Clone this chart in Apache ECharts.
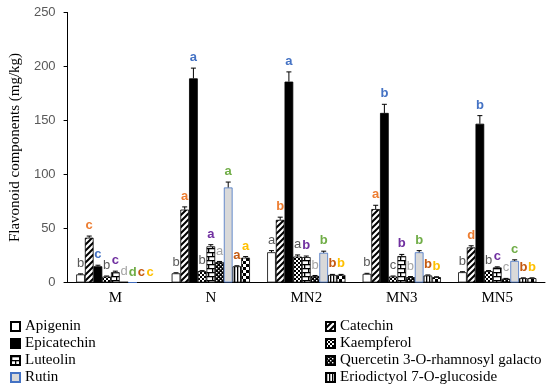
<!DOCTYPE html>
<html>
<head>
<meta charset="utf-8">
<script src="https://cdn.jsdelivr.net/npm/echarts@6/dist/echarts.min.js"></script>
<style>html,body{margin:0;padding:0;background:#fff;}#c{width:550px;height:391px;}</style>
</head>
<body>
<div id="c"></div>
<script>
// ---- data ----
const categories = ['M', 'N', 'MN2', 'MN3', 'MN5'];
const yTicks = [0, 50, 100, 150, 200, 250];
const seriesNames = ['Apigenin', 'Catechin', 'Epicatechin', 'Kaempferol', 'Luteolin',
  'Quercetin 3-O-rhamnosyl galacto', 'Rutin', 'Eriodictyol 7-O-glucoside', 'Series 9'];
const apigenin    = [7.5, 8.5, 28, 8, 9.5];
const catechin    = [41.5, 67.5, 58, 68, 32.5];
const epicatechin = [15, 189, 186, 157, 147];
const kaempferol  = [5.5, 10.5, 24, 5.5, 10.5];
const luteolin    = [9.5, 33.5, 23.5, 24.5, 14];
const quercetin   = [0.5, 19, 6, 5, 3.5];
const rutin       = [0, 88, 27.5, 28, 20];
const eriodictyol = [0, 15, 7, 6.5, 4];
const series9     = [0, 23, 7, 5, 4];
const apigeninErr    = [0.5, 0.5, 1.5, 0.5, 0.5];
const catechinErr    = [1.5, 2.5, 2.5, 3.5, 1.5];
const epicatechinErr = [1, 9.5, 9, 8, 7.5];
const kaempferolErr  = [0.5, 0.5, 1.5, 0.5, 0.5];
const luteolinErr    = [1, 1.5, 1, 1.5, 0.5];
const quercetinErr   = [0, 0.5, 0.5, 0.5, 0.3];
const rutinErr       = [0, 5, 1.5, 1.5, 1];
const eriodictyolErr = [0, 0.5, 0.5, 0.5, 0.3];
const series9Err     = [0, 1, 0.5, 0.3, 0.3];
const apigeninLet    = ['b', 'b', 'a', 'b', 'b'];
const catechinLet    = ['c', 'a', 'b', 'a', 'd'];
const epicatechinLet = ['c', 'a', 'a', 'b', 'b'];
const kaempferolLet  = ['b', 'b', 'a', 'c', 'b'];
const luteolinLet    = ['c', 'a', 'b', 'b', 'c'];
const quercetinLet   = ['d', 'a', 'b', 'b', 'c'];
const rutinLet       = ['d', 'a', 'b', 'b', 'c'];
const eriodictyolLet = ['c', 'a', 'b', 'b', 'b'];
const series9Let     = ['c', 'a', 'b', 'b', 'b'];

const values = [apigenin, catechin, epicatechin, kaempferol, luteolin, quercetin, rutin, eriodictyol, series9];
const errors = [apigeninErr, catechinErr, epicatechinErr, kaempferolErr, luteolinErr, quercetinErr, rutinErr, eriodictyolErr, series9Err];
const letters = [apigeninLet, catechinLet, epicatechinLet, kaempferolLet, luteolinLet, quercetinLet, rutinLet, eriodictyolLet, series9Let];

// ---- styles ----
const letterColors = ['#595959', '#ED7D31', '#4472C4', '#595959', '#7030A0', '#A5A5A5', '#70AD47', '#C55A11', '#FFC000'];
const letterBold = [false, true, true, false, true, false, true, true, true];

function tile(w, h, draw) {
  const c = document.createElement('canvas');
  c.width = w; c.height = h;
  const ctx = c.getContext('2d');
  draw(ctx, w, h);
  return { image: c, repeat: 'repeat' };
}
const patWhite = '#ffffff';
const patDiag = tile(6, 6, (ctx, w, h) => {
  ctx.fillStyle = '#fff'; ctx.fillRect(0, 0, w, h);
  ctx.strokeStyle = '#000'; ctx.lineWidth = 2;
  ctx.beginPath();
  ctx.moveTo(-3, 3); ctx.lineTo(3, -3);
  ctx.moveTo(0, 6); ctx.lineTo(6, 0);
  ctx.moveTo(3, 9); ctx.lineTo(9, 3);
  ctx.stroke();
});
const patSmallChecker = tile(4, 4, (ctx, w, h) => {
  ctx.fillStyle = '#fff'; ctx.fillRect(0, 0, w, h);
  ctx.fillStyle = '#000';
  ctx.fillRect(0, 0, 2, 2); ctx.fillRect(2, 2, 2, 2);
});
const patBrick = tile(8, 8, (ctx, w, h) => {
  ctx.fillStyle = '#fff'; ctx.fillRect(0, 0, w, h);
  ctx.fillStyle = '#000';
  ctx.fillRect(0, 0, 8, 1.3); ctx.fillRect(0, 4, 8, 1.3);
  ctx.fillRect(0, 0, 1.3, 4); ctx.fillRect(4, 4, 1.3, 4);
});
const patDarkChecker = tile(4, 4, (ctx, w, h) => {
  ctx.fillStyle = '#000'; ctx.fillRect(0, 0, w, h);
  ctx.fillStyle = '#fff';
  ctx.fillRect(0, 0, 1.4, 1.4); ctx.fillRect(2, 2, 1.4, 1.4);
});
const patVert = tile(3, 3, (ctx, w, h) => {
  ctx.fillStyle = '#fff'; ctx.fillRect(0, 0, w, h);
  ctx.fillStyle = '#000'; ctx.fillRect(0, 0, 1.3, 3);
});
const patBigChecker = tile(6, 6, (ctx, w, h) => {
  ctx.fillStyle = '#fff'; ctx.fillRect(0, 0, w, h);
  ctx.fillStyle = '#000';
  ctx.fillRect(0, 0, 3, 3); ctx.fillRect(3, 3, 3, 3);
});
const fills = [patWhite, patDiag, '#000000', patSmallChecker, patBrick, patDarkChecker, '#D9D9D9', patVert, patBigChecker];
const borders = ['#000', '#000', '#000', '#000', '#000', '#000', '#4472C4', '#000', '#000'];

const CAT_GAP = 0.18;
const N = seriesNames.length;

const barSeries = seriesNames.map((name, i) => ({
  name: name,
  type: 'bar',
  data: values[i],
  barGap: '0%',
  barCategoryGap: (CAT_GAP * 100) + '%',
  itemStyle: { color: fills[i], borderColor: borders[i], borderWidth: 0.8 },
  emphasis: { disabled: true },
  z: 2
}));

const errData = [];
for (let s = 0; s < N; s++) {
  for (let c = 0; c < categories.length; c++) {
    errData.push([c, s, values[s][c], errors[s][c]]);
  }
}

const errSeries = {
  type: 'custom',
  name: 'err',
  z: 5,
  silent: true,
  encode: { x: 0, y: 2 },
  data: errData,
  renderItem: function (params, api) {
    const c = api.value(0), s = api.value(1), v = api.value(2), e = api.value(3);
    const band = api.size([1, 0])[0];
    const groupW = band * (1 - CAT_GAP);
    const bw = groupW / N;
    const x = api.coord([c, 0])[0] - groupW / 2 + bw * (s + 0.5);
    const yV = api.coord([c, v])[1];
    const yT = api.coord([c, v + e])[1];
    const children = [];
    if (e > 0) {
      children.push({ type: 'line', shape: { x1: x, y1: yV, x2: x, y2: yT }, style: { stroke: '#000', lineWidth: 1 } });
      children.push({ type: 'line', shape: { x1: x - 2.5, y1: yT, x2: x + 2.5, y2: yT }, style: { stroke: '#000', lineWidth: 1 } });
    }
    children.push({
      type: 'text',
      style: {
        text: letters[s][c], x: x, y: yT - 4,
        fill: letterColors[s],
        font: (letterBold[s] ? 'bold ' : '') + '13px "Liberation Sans", Arial, sans-serif',
        align: 'center', verticalAlign: 'bottom'
      }
    });
    return { type: 'group', children: children };
  }
};

const serifFont = '"Liberation Serif", "Times New Roman", serif';
const legendText = { fontFamily: serifFont, fontSize: 15, color: '#000', lineHeight: 17 };

const chart = echarts.init(document.getElementById('c'), null, { renderer: 'canvas' });
chart.setOption({
  animation: false,
  backgroundColor: '#fff',
  grid: { left: 63, right: 5, top: 12.5, bottom: 108.5, containLabel: false },
  legend: [
    { orient: 'vertical', left: 10, top: 318, height: 120, padding: 0, itemWidth: 9, itemHeight: 9, itemGap: 0, icon: 'rect',
      selectedMode: false, data: [seriesNames[0], seriesNames[2], seriesNames[4], seriesNames[6]], textStyle: legendText },
    { orient: 'vertical', left: 325, top: 318, height: 120, padding: 0, itemWidth: 9, itemHeight: 9, itemGap: 0, icon: 'rect',
      selectedMode: false, data: [seriesNames[1], seriesNames[3], seriesNames[5], seriesNames[7]], textStyle: legendText }
  ],
  xAxis: {
    type: 'category',
    data: categories,
    axisLine: { lineStyle: { color: '#000', width: 1 } },
    axisTick: { show: false },
    axisLabel: { fontFamily: serifFont, fontSize: 15, color: '#000', margin: 8 }
  },
  yAxis: {
    type: 'value',
    min: yTicks[0], max: yTicks[yTicks.length - 1], interval: yTicks[1] - yTicks[0],
    name: 'Flavonoid components (mg/kg)',
    nameLocation: 'middle', nameGap: 42,
    nameTextStyle: { fontFamily: serifFont, fontSize: 15, color: '#000' },
    axisLine: { show: true, lineStyle: { color: '#000', width: 1 } },
    axisTick: { show: true, inside: false, length: 4, lineStyle: { color: '#000' } },
    splitLine: { show: false },
    axisLabel: { fontFamily: '"Liberation Sans", Arial, sans-serif', fontSize: 13, color: '#595959', margin: 12 }
  },
  series: barSeries.concat([errSeries])
});
</script>
</body>
</html>
